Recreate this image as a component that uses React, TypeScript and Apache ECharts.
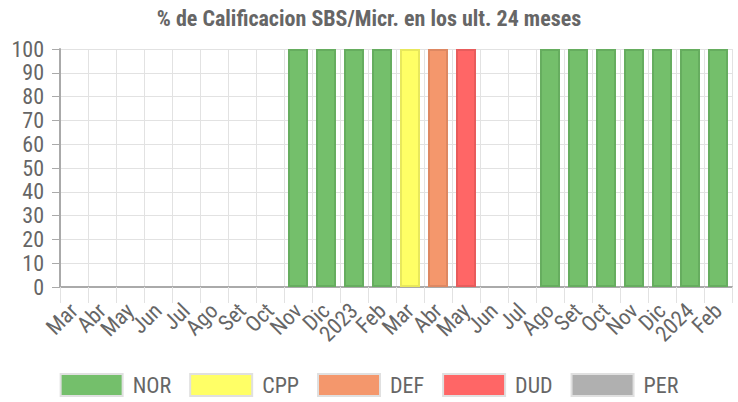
import React, { useEffect, useRef } from "react";
import * as echarts from "echarts";

const categories = ["Mar", "Abr", "May", "Jun", "Jul", "Ago", "Set", "Oct", "Nov", "Dic", "2023", "Feb", "Mar", "Abr", "May", "Jun", "Jul", "Ago", "Set", "Oct", "Nov", "Dic", "2024", "Feb"];
const nor = [0, 0, 0, 0, 0, 0, 0, 0, 100, 100, 100, 100, 0, 0, 0, 0, 0, 100, 100, 100, 100, 100, 100, 100];
const cpp = [0, 0, 0, 0, 0, 0, 0, 0, 0, 0, 0, 0, 100, 0, 0, 0, 0, 0, 0, 0, 0, 0, 0, 0];
const def = [0, 0, 0, 0, 0, 0, 0, 0, 0, 0, 0, 0, 0, 100, 0, 0, 0, 0, 0, 0, 0, 0, 0, 0];
const dud = [0, 0, 0, 0, 0, 0, 0, 0, 0, 0, 0, 0, 0, 0, 100, 0, 0, 0, 0, 0, 0, 0, 0, 0];
const per = [0, 0, 0, 0, 0, 0, 0, 0, 0, 0, 0, 0, 0, 0, 0, 0, 0, 0, 0, 0, 0, 0, 0, 0];
const yTicks = [0, 10, 20, 30, 40, 50, 60, 70, 80, 90, 100];

const FONT = "'Roboto Condensed', 'Roboto', sans-serif";

const seriesDefs = [
  { name: "NOR", data: nor, fill: "#74bf6b", border: "#66ad5f" },
  { name: "CPP", data: cpp, fill: "#ffff66", border: "#e8e85c" },
  { name: "DEF", data: def, fill: "#f4976c", border: "#de8862" },
  { name: "DUD", data: dud, fill: "#ff6666", border: "#e85c5c" },
  { name: "PER", data: per, fill: "#b0b0b0", border: "#a0a0a0" },
];

export default function App() {
  const ref = useRef<HTMLDivElement>(null);
  useEffect(() => {
    const chart = echarts.init(ref.current!, null, { renderer: "svg" });
    chart.setOption({
      animation: false,
      title: {
        text: "% de Calificacion SBS/Micr. en los ult. 24 meses",
        left: "center",
        top: 2,
        textStyle: { fontFamily: FONT, fontSize: 22, fontWeight: "bold", color: "#666" },
      },
      legend: {
        bottom: 0,
        left: "center",
        itemWidth: 62,
        itemHeight: 22,
        itemGap: 18,
        icon: "rect",
        textStyle: { fontFamily: FONT, fontSize: 22, color: "#666", padding: [0, 0, 0, 5] },
        data: seriesDefs.map((s) => ({
          name: s.name,
          itemStyle: { color: s.fill, borderColor: "#e0e0e0", borderWidth: 2 },
        })),
      },
      grid: { left: 60, right: 6, top: 49, bottom: 115 },
      xAxis: {
        type: "category",
        data: categories,
        boundaryGap: true,
        axisLine: { lineStyle: { color: "#aaa", width: 2 } },
        axisTick: { show: true, length: 16, interval: 0, lineStyle: { color: "#e2e2e2" } },
        splitLine: { show: true, interval: 0, lineStyle: { color: "#e2e2e2" } },
        axisLabel: {
          interval: 0,
          rotate: 45,
          margin: 20,
          fontFamily: FONT,
          fontSize: 22,
          color: "#666",
        },
      },
      yAxis: {
        type: "value",
        min: 0,
        max: 100,
        interval: 10,
        axisLine: { show: true, lineStyle: { color: "#aaa", width: 2 } },
        axisTick: { show: true, length: 8, lineStyle: { color: "#aaa" } },
        splitLine: { show: true, lineStyle: { color: "#e2e2e2" } },
        axisLabel: {
          margin: 16,
          fontFamily: FONT,
          fontSize: 22,
          color: "#666",
          formatter: (v: number) => (yTicks.includes(v) ? String(v) : ""),
        },
      },
      series: seriesDefs.map((s) => ({
        name: s.name,
        type: "bar",
        stack: "total",
        barWidth: 20,
        data: s.data.map((v) => (v === 0 ? "-" : v)),
        itemStyle: { color: s.fill, borderColor: s.border, borderWidth: 2 },
      })),
    });
    return () => chart.dispose();
  }, []);
  return <div ref={ref} style={{ width: 738, height: 402, position: "absolute", left: 0, top: 0 }} />;
}
